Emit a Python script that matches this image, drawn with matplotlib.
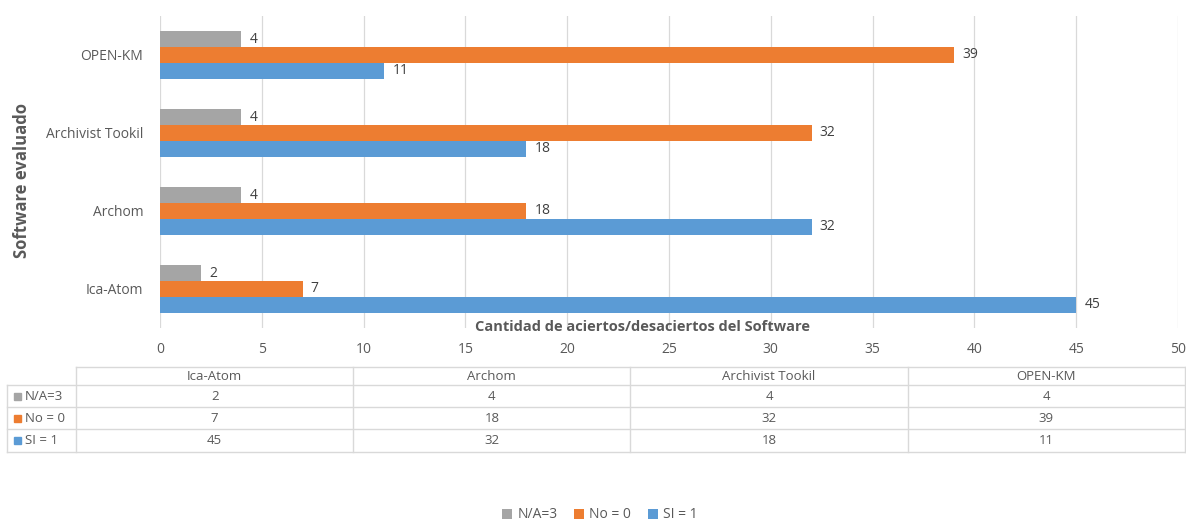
import numpy as np
import matplotlib.pyplot as plt

plt.rcParams['font.family'] = ['Open Sans', 'DejaVu Sans']

software = ["Ica-Atom", "Archom", "Archivist Tookil", "OPEN-KM"]
series_names = ["N/A=3", "No = 0", "SI = 1"]
na_vals = [2, 4, 4, 4]
no_vals = [7, 18, 32, 39]
si_vals = [45, 32, 18, 11]
series_vals = [na_vals, no_vals, si_vals]
colors = ["#A5A5A5", "#ED7D31", "#5B9BD5"]
txt = "#595959"

W, H = 1186, 522
fig = plt.figure(figsize=(W / 100, H / 100), dpi=100)

def fx(px):
    return px / W

def fy(py):
    return 1 - py / H

ax = fig.add_axes([fx(160), fy(328), fx(1178) - fx(160), fy(16) - fy(328)])

y = np.arange(len(software))
h = 0.205
offsets = [h, 0, -h]
for vals, name, col, off in zip(series_vals, series_names, colors, offsets):
    bars = ax.barh(y + off, vals, height=h, color=col, label=name, zorder=2)
    ax.bar_label(bars, padding=6, color="#404040", fontsize=10)

ax.set_xlim(0, 50)
ax.set_ylim(-0.5, 3.5)
ax.set_xticks(np.arange(0, 51, 5))
ax.set_yticks(y)
ax.set_yticklabels(software)
ax.grid(axis="x", color="#D9D9D9", lw=0.9, zorder=0)
for s in ax.spines.values():
    s.set_visible(False)
ax.tick_params(length=0, colors=txt, labelsize=10)
ax.tick_params(axis="x", pad=10)
ax.tick_params(axis="y", pad=12)

fig.text(fx(642), fy(327), "Cantidad de aciertos/desaciertos del Software",
         ha="center", va="center", fontsize=10.5, fontweight="bold", color=txt)
fig.text(fx(22), fy(180), "Software evaluado", rotation=90, ha="center",
         va="center", fontsize=12, fontweight="bold", color=txt)

# data table below the chart
tab_left, col0, tab_right = 7, 76, 1185
col_edges = np.linspace(col0, tab_right, len(software) + 1)
row_edges = [367, 385, 407, 429, 452]
lc = "#D9D9D9"
for i, r in enumerate(row_edges):
    x0 = col0 if i == 0 else tab_left
    fig.add_artist(plt.Line2D([fx(x0), fx(tab_right)], [fy(r), fy(r)], color=lc, lw=1))
fig.add_artist(plt.Line2D([fx(tab_left), fx(tab_left)], [fy(row_edges[1]), fy(row_edges[-1])], color=lc, lw=1))
for c in col_edges:
    fig.add_artist(plt.Line2D([fx(c), fx(c)], [fy(row_edges[0]), fy(row_edges[-1])], color=lc, lw=1))

for j, name in enumerate(software):
    cx = (col_edges[j] + col_edges[j + 1]) / 2
    fig.text(fx(cx), fy((row_edges[0] + row_edges[1]) / 2), name, ha="center",
             va="center", fontsize=9.5, color=txt)
    for i, vals in enumerate(series_vals):
        cy = (row_edges[i + 1] + row_edges[i + 2]) / 2
        fig.text(fx(cx), fy(cy), str(vals[j]), ha="center", va="center",
                 fontsize=9.5, color=txt)

for i, (name, col) in enumerate(zip(series_names, colors)):
    cy = (row_edges[i + 1] + row_edges[i + 2]) / 2
    fig.add_artist(plt.Rectangle((fx(14), fy(cy) - 3.5 / H), 7 / W, 7 / H, color=col))
    fig.text(fx(25), fy(cy), name, ha="left", va="center", fontsize=9.5, color=txt)

fig.legend(loc="center", bbox_to_anchor=(fx(600), fy(515)), ncol=3, frameon=False,
           fontsize=10, labelcolor=txt, handlelength=0.7, handleheight=0.7,
           handletextpad=0.4, columnspacing=1.2, borderpad=0.1)

fig.savefig("out.png", dpi=100, facecolor="white")
